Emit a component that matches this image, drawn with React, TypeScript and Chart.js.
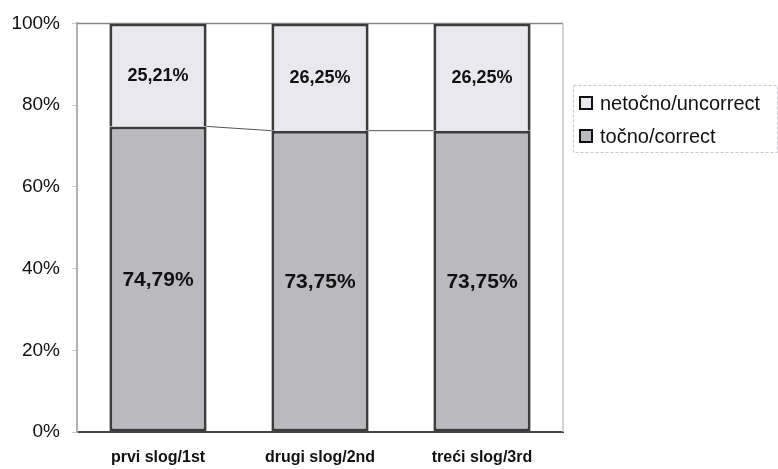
import React, { useEffect, useRef } from "react";
import { Chart, registerables } from "chart.js";

Chart.register(...registerables);

const categories = ["prvi slog/1st", "drugi slog/2nd", "treći slog/3rd"];
const correct = [74.79, 73.75, 73.75];
const incorrect = [25.21, 26.25, 26.25];
const yTicks = [0, 20, 40, 60, 80, 100];

const FONT = "'Liberation Sans', Arial, sans-serif";
const fmt = (v: number) => v.toFixed(2).replace(".", ",") + "%";

const framePlugin = {
  id: "frame",
  beforeDatasetsDraw(chart: any) {
    const { ctx, chartArea: a } = chart;
    ctx.save();
    ctx.lineWidth = 1.5;
    ctx.strokeStyle = "#888";
    ctx.beginPath();
    ctx.moveTo(a.left, a.top);
    ctx.lineTo(a.right, a.top);
    ctx.stroke();
    ctx.strokeStyle = "#c4c4c8";
    ctx.beginPath();
    ctx.moveTo(a.right, a.top);
    ctx.lineTo(a.right, a.bottom);
    ctx.stroke();
    ctx.restore();
  },
};

const seriesLinePlugin = {
  id: "seriesLines",
  afterDatasetsDraw(chart: any) {
    const { ctx } = chart;
    const meta = chart.getDatasetMeta(0);
    ctx.save();
    ctx.strokeStyle = "#555";
    ctx.lineWidth = 1;
    for (let i = 0; i < meta.data.length - 1; i++) {
      const a = meta.data[i];
      const b = meta.data[i + 1];
      ctx.beginPath();
      ctx.moveTo(a.x + a.width / 2, a.y);
      ctx.lineTo(b.x - b.width / 2, b.y);
      ctx.stroke();
    }
    ctx.restore();
  },
};

const labelPlugin = {
  id: "valueLabels",
  afterDatasetsDraw(chart: any) {
    const { ctx } = chart;
    ctx.save();
    ctx.fillStyle = "#111";
    ctx.textAlign = "center";
    ctx.textBaseline = "middle";
    chart.data.datasets.forEach((ds: any, di: number) => {
      const meta = chart.getDatasetMeta(di);
      ctx.font = `bold ${di === 0 ? 21 : 18}px ${FONT}`;
      meta.data.forEach((el: any, i: number) => {
        const cy = (el.y + el.base) / 2;
        ctx.fillText(fmt(ds.data[i]), el.x, cy + 1);
      });
    });
    ctx.restore();
  },
};

const legendPlugin = {
  id: "customLegend",
  afterDraw(chart: any) {
    const { ctx } = chart;
    ctx.save();
    ctx.strokeStyle = "#c8c8cc";
    ctx.lineWidth = 1;
    ctx.setLineDash([3, 2]);
    ctx.strokeRect(573.5, 85.5, 204, 67);
    ctx.setLineDash([]);
    const items = chart.data.datasets.slice().reverse();
    items.forEach((ds: any, i: number) => {
      const cy = 103 + i * 33;
      ctx.fillStyle = ds.backgroundColor;
      ctx.fillRect(580, cy - 6, 12, 12);
      ctx.strokeStyle = "#111";
      ctx.lineWidth = 2;
      ctx.strokeRect(580, cy - 6, 12, 12);
      ctx.fillStyle = "#111";
      ctx.font = `20px ${FONT}`;
      ctx.textAlign = "left";
      ctx.textBaseline = "middle";
      ctx.fillText(ds.label, 600, cy + 1);
    });
    ctx.restore();
  },
};

export default function App() {
  const ref = useRef<HTMLCanvasElement>(null);
  useEffect(() => {
    if (!ref.current) return;
    const chart = new Chart(ref.current, {
      type: "bar",
      data: {
        labels: categories,
        datasets: [
          {
            label: "točno/correct",
            data: correct,
            backgroundColor: "#b9b9be",
            borderColor: "#3c3c3c",
            borderWidth: 3,
            borderSkipped: false,
            barPercentage: 0.6,
            categoryPercentage: 1,
          },
          {
            label: "netočno/uncorrect",
            data: incorrect,
            backgroundColor: "#e9e8ee",
            borderColor: "#3c3c3c",
            borderWidth: 3,
            borderSkipped: "start",
            barPercentage: 0.6,
            categoryPercentage: 1,
          },
        ],
      },
      options: {
        responsive: false,
        animation: false,
        layout: { padding: { top: 22, right: 215, left: 0, bottom: 0 } },
        plugins: { legend: { display: false }, tooltip: { enabled: false } },
        scales: {
          x: {
            stacked: true,
            grid: { display: false },
            border: { display: true, color: "#444", width: 2 },
            ticks: {
              color: "#111",
              font: { family: FONT, size: 16, weight: "bold" },
              padding: 8,
              maxRotation: 0,
            },
            afterFit: (s: any) => {
              s.height = 37;
            },
          },
          y: {
            stacked: true,
            min: 0,
            max: 100,
            afterBuildTicks: (s: any) => {
              s.ticks = yTicks.map((v) => ({ value: v }));
            },
            grid: {
              drawOnChartArea: false,
              drawTicks: true,
              tickLength: 5,
              color: "#c8c8c8",
            },
            border: { display: true, color: "#b0b0b4", width: 2 },
            ticks: {
              color: "#111",
              font: { family: FONT, size: 19 },
              padding: 12,
              callback: (v: any) => v + "%",
            },
            afterFit: (s: any) => {
              s.width = 77;
            },
          },
        },
      },
      plugins: [framePlugin, seriesLinePlugin, labelPlugin, legendPlugin],
    } as any);
    return () => chart.destroy();
  }, []);
  return (
    <div style={{ position: "absolute", left: 0, top: 0, width: 778, height: 469 }}>
      <canvas ref={ref} width={778} height={469} />
    </div>
  );
}
